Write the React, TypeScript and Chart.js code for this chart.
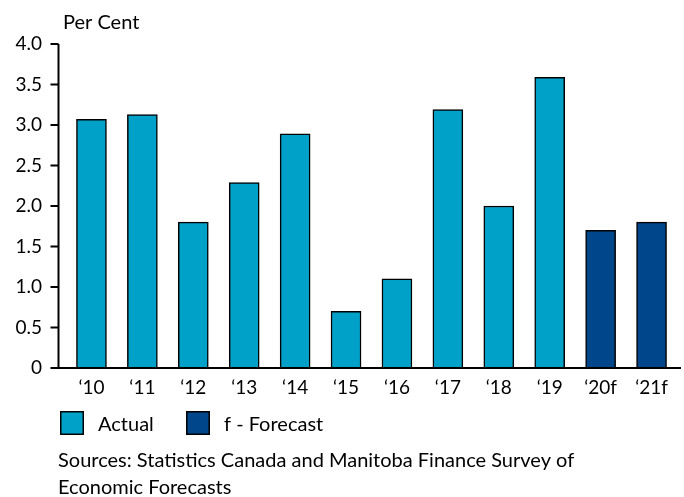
import React, { useEffect, useRef } from "react";
import { Chart, registerables } from "chart.js";

Chart.register(...registerables);

const categories = ["‘10", "‘11", "‘12", "‘13", "‘14", "‘15", "‘16", "‘17", "‘18", "‘19", "‘20f", "‘21f"];
const actualValues = [3.07, 3.13, 1.8, 2.29, 2.89, 0.7, 1.1, 3.19, 2.0, 3.59, null, null];
const forecastValues = [null, null, null, null, null, null, null, null, null, null, 1.7, 1.8];
const yTicks = [0, 0.5, 1.0, 1.5, 2.0, 2.5, 3.0, 3.5, 4.0];
const legendLabels = ["Actual", "f - Forecast"];
const yAxisTitle = "Per Cent";
const sourceLines = [
  "Sources: Statistics Canada and Manitoba Finance Survey of",
  "Economic Forecasts",
];

const LIGHT = "#00A1C9";
const DARK = "#00468B";
const FONT = "Lato, 'Open Sans', sans-serif";

const decorPlugin = {
  id: "decor",
  afterDraw(chart: any) {
    const { ctx, chartArea, scales } = chart;
    const y = scales.y;
    const axisX = chartArea.left - 7.5;
    const top = y.getPixelForValue(4);
    const zero = y.getPixelForValue(0);
    ctx.save();
    ctx.strokeStyle = "#000";
    ctx.lineWidth = 2;
    ctx.beginPath();
    ctx.moveTo(axisX, top);
    ctx.lineTo(axisX, zero);
    ctx.moveTo(axisX - 8, zero);
    ctx.lineTo(chartArea.right + 4, zero);
    yTicks.forEach((v) => {
      const py = y.getPixelForValue(v);
      ctx.moveTo(axisX - 8, py);
      ctx.lineTo(axisX, py);
    });
    ctx.stroke();

    ctx.fillStyle = "#000";
    ctx.textBaseline = "alphabetic";
    ctx.textAlign = "left";
    ctx.font = `20px ${FONT}`;
    ctx.fillText(yAxisTitle, 63, 29);

    const colors = [LIGHT, DARK];
    const boxX = [60, 186];
    legendLabels.forEach((lab, i) => {
      ctx.fillStyle = colors[i];
      ctx.fillRect(boxX[i], 411, 24, 24);
      ctx.lineWidth = 1.5;
      ctx.strokeStyle = "#000";
      ctx.strokeRect(boxX[i] + 0.75, 411.75, 22.5, 22.5);
      ctx.fillStyle = "#000";
      ctx.fillText(lab, boxX[i] + 38, 431);
    });

    sourceLines.forEach((line, i) => {
      ctx.fillText(line, 58, 467 + i * 27);
    });
    ctx.restore();
  },
};

export default function App() {
  const ref = useRef<HTMLCanvasElement | null>(null);
  useEffect(() => {
    if (!ref.current) return;
    const chart = new Chart(ref.current, {
      type: "bar",
      data: {
        labels: categories,
        datasets: [
          {
            label: legendLabels[0],
            data: actualValues,
            backgroundColor: LIGHT,
            borderColor: "#000",
            borderWidth: 1.5,
            barThickness: 30,
          },
          {
            label: legendLabels[1],
            data: forecastValues,
            backgroundColor: DARK,
            borderColor: "#000",
            borderWidth: 1.5,
            barThickness: 30,
          },
        ],
      },
      options: {
        animation: false,
        responsive: false,
        maintainAspectRatio: false,
        layout: { padding: { top: 44, right: 7, left: 0, bottom: 0 } },
        plugins: {
          legend: { display: false },
          tooltip: { enabled: false },
          title: { display: false },
        },
        scales: {
          x: {
            stacked: true,
            offset: true,
            grid: { display: false, drawTicks: false },
            border: { display: false },
            ticks: {
              color: "#000",
              font: { family: FONT, size: 19 },
              padding: 8,
              maxRotation: 0,
              autoSkip: false,
            },
            afterFit(scale: any) {
              scale.height = 497 - 368;
            },
          },
          y: {
            stacked: true,
            min: 0,
            max: 4,
            grid: { display: false, drawTicks: false },
            border: { display: false },
            afterBuildTicks(scale: any) {
              scale.ticks = yTicks.map((v) => ({ value: v }));
            },
            ticks: {
              color: "#000",
              font: { family: FONT, size: 19 },
              padding: 24,
              callback: (v: any) => (Number(v) === 0 ? "0" : Number(v).toFixed(1)),
            },
            afterFit(scale: any) {
              scale.width = 66;
            },
          },
        },
      },
      plugins: [decorPlugin],
    });
    return () => chart.destroy();
  }, []);
  return (
    <div style={{ position: "fixed", left: 0, top: 0, width: 684, height: 497, background: "#fff" }}>
      <canvas ref={ref} width={684} height={497} style={{ width: 684, height: 497 }} />
    </div>
  );
}
